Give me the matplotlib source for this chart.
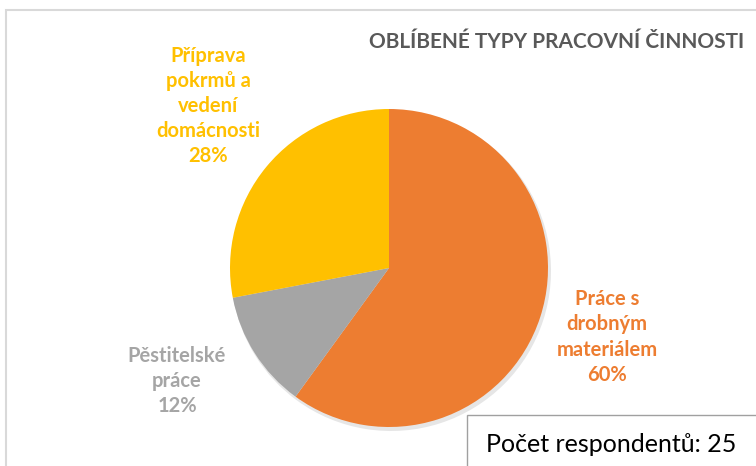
import matplotlib
matplotlib.use("Agg")
import matplotlib.pyplot as plt
from matplotlib.patches import Rectangle

categories = ["Práce s\ndrobným\nmateriálem", "Pěstitelské\npráce", "Příprava\npokrmů a\nvedení\ndomácnosti"]
values = [60, 12, 28]
colors = ["#ED7D31", "#A5A5A5", "#FFC000"]
title = "OBLÍBENÉ TYPY PRACOVNÍ ČINNOSTI"
note = "Počet respondentů: 25"

W, H = 756, 466
fig = plt.figure(figsize=(W / 100, H / 100), dpi=100)
fig.patch.set_facecolor("white")
ax = fig.add_axes([0, 0, 1, 1])

# chart frame
ax.add_patch(Rectangle((6, -10), W + 20, H - 10 + 10, fill=False,
                       edgecolor="#D9D9D9", linewidth=1.5, zorder=0))

cx, cy, r = 389, H - 268, 159
# subtle shadow
ax.pie(values, colors=["#E6E6E6"] * 3, startangle=90, counterclock=False,
       center=(cx + 2, cy - 3), radius=r + 1, frame=True,
       wedgeprops=dict(linewidth=0))
wedges, _ = ax.pie(values, colors=colors, startangle=90, counterclock=False,
                   center=(cx, cy), radius=r, frame=True,
                   wedgeprops=dict(linewidth=0))
ax.set_xlim(0, W)
ax.set_ylim(0, H)
ax.set_aspect("equal")
ax.axis("off")

label_pos = [(607, H - 337), (177, H - 381), (208, H - 106)]
for cat, v, col, (lx, ly) in zip(categories, values, colors, label_pos):
    ax.text(lx, ly, f"{cat}\n{v}%", ha="center", va="center", color=col,
            fontsize=14.5, fontweight="bold", family="Lato", linespacing=1.32)

ax.text(744, H - 42, title, ha="right", va="center", color="#595959",
        fontsize=15, fontweight="bold", family="Lato")

ax.add_patch(Rectangle((467, -10), W, H - 415 + 10, facecolor="white",
                       edgecolor="#A0A0A0", linewidth=1.0, zorder=5))
ax.text(486, H - 444, note, ha="left", va="center", color="black",
        fontsize=18, family="Lato", zorder=6)

fig.savefig("out.png", dpi=100)
